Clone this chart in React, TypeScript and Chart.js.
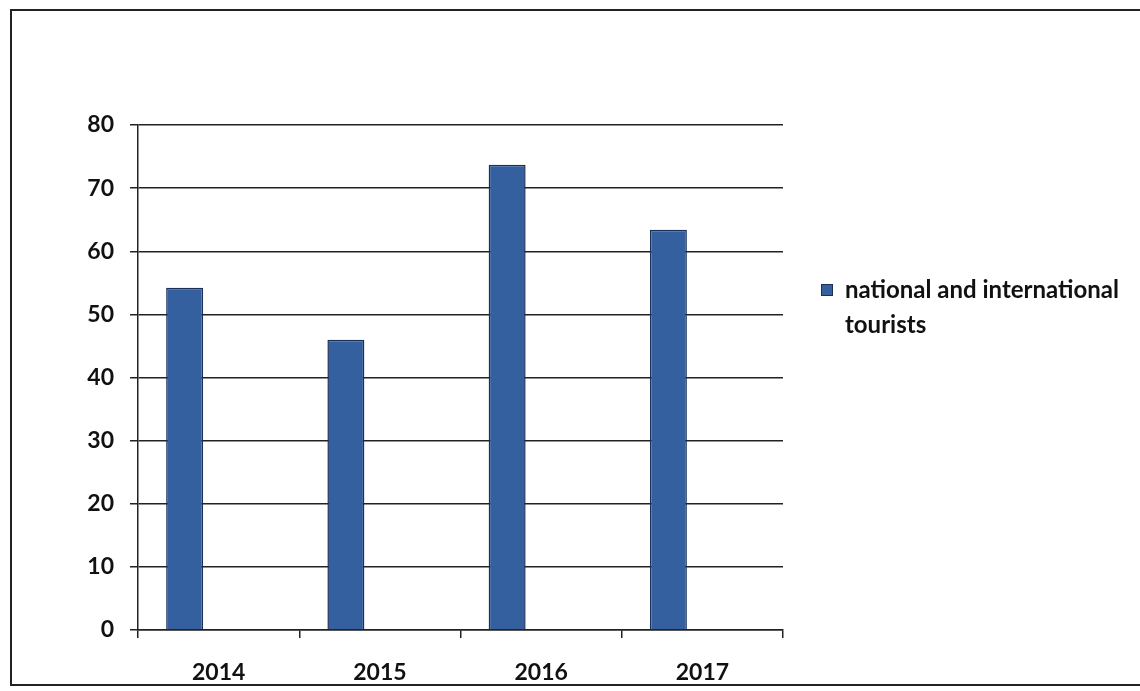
import React, { useEffect, useRef } from "react";
import { Chart, registerables } from "chart.js";

Chart.register(...registerables);

const categories = ["2014", "2015", "2016", "2017"];
const tourists = [54.2, 46, 73.7, 63.4];
// the original chart keeps an empty second series slot beside each bar
const emptySeries = [null, null, null, null];
const seriesLabel = "national and international tourists";
const yMin = 0;
const yMax = 80;
const yStep = 10;

const barFill = "#34609f";
const barEdge = "#1c2f57";
const inkColor = "#222222";
const fontFamily = "Lato, 'Open Sans', 'DejaVu Sans', sans-serif";

export default function App() {
  const canvasRef = useRef<HTMLCanvasElement | null>(null);

  useEffect(() => {
    if (!canvasRef.current) return;
    const chart = new Chart(canvasRef.current, {
      type: "bar",
      data: {
        labels: categories,
        datasets: [
          {
            label: seriesLabel,
            data: tourists,
            backgroundColor: barFill,
            borderColor: barEdge,
            borderWidth: 1.5,
            categoryPercentage: 0.843,
            barPercentage: 0.544,
          },
          {
            label: "",
            data: emptySeries,
            backgroundColor: "transparent",
            categoryPercentage: 0.843,
            barPercentage: 0.544,
          },
        ],
      },
      options: {
        responsive: false,
        animation: false,
        layout: { padding: { left: 0, top: 125, right: 357, bottom: 0 } },
        plugins: {
          legend: { display: false },
          tooltip: { enabled: false },
          title: { display: false },
        },
        scales: {
          x: {
            afterFit: (s: any) => {
              s.height = 61;
            },
            grid: {
              offset: true,
              drawOnChartArea: false,
              drawTicks: true,
              tickLength: 8,
              color: inkColor,
              lineWidth: 1.5,
            },
            border: { display: true, color: inkColor, width: 1.5 },
            ticks: {
              color: "#111",
              padding: 21,
              font: { family: fontFamily, size: 23, weight: "bold" },
            },
          },
          y: {
            min: yMin,
            max: yMax,
            afterFit: (s: any) => {
              s.width = 138;
            },
            grid: {
              drawTicks: true,
              tickLength: 8,
              color: inkColor,
              lineWidth: 1.5,
            },
            border: { display: true, color: inkColor, width: 1.5 },
            ticks: {
              stepSize: yStep,
              color: "#111",
              padding: 16,
              font: { family: fontFamily, size: 23, weight: "bold" },
            },
          },
        },
      },
    });
    return () => chart.destroy();
  }, []);

  return (
    <div
      style={{
        position: "fixed",
        left: 0,
        top: 0,
        width: 1140,
        height: 691,
        overflow: "hidden",
        background: "#ffffff",
      }}
    >
      <div
        style={{
          position: "absolute",
          left: 10,
          top: 9,
          width: 1200,
          height: 677,
          border: "2px solid #222",
          boxSizing: "border-box",
        }}
      />
      <canvas
        ref={canvasRef}
        width={1140}
        height={691}
        style={{ position: "absolute", left: 0, top: 0, width: 1140, height: 691 }}
      />
      <div
        style={{
          position: "absolute",
          left: 821,
          top: 284,
          width: 12,
          height: 12,
          background: barFill,
          border: `1px solid ${barEdge}`,
          boxSizing: "border-box",
        }}
      />
      <div
        style={{
          position: "absolute",
          left: 845,
          top: 271,
          width: 292,
          fontFamily,
          fontWeight: 700,
          fontSize: 24,
          lineHeight: "35px",
          color: "#111",
        }}
      >
        {seriesLabel}
      </div>
    </div>
  );
}
